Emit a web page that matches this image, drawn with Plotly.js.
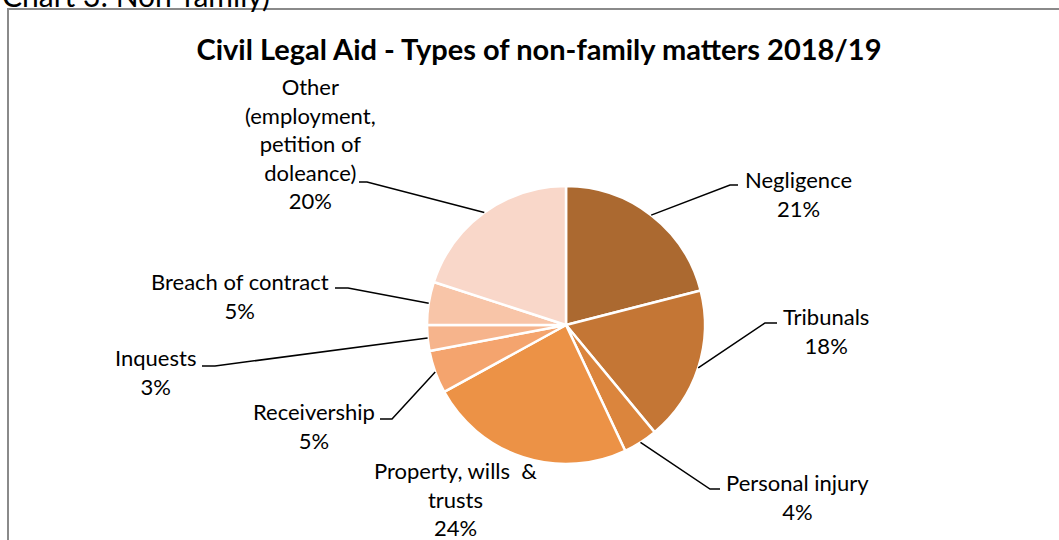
<!DOCTYPE html>
<html>
<head>
<meta charset="utf-8">
<script src="https://cdn.plot.ly/plotly-3.0.1.min.js"></script>
<style>html,body{margin:0;padding:0;background:#fff;}#chart{width:1059px;height:540px;}</style>
</head>
<body>
<div id="chart"></div>
<script>
// ---- data ----
const categories = ["Negligence", "Tribunals", "Personal injury", "Property, wills  & trusts", "Receivership", "Inquests", "Breach of contract", "Other (employment, petition of doleance)"];
const labelText = ["Negligence", "Tribunals", "Personal injury", "Property, wills  &<br>trusts", "Receivership", "Inquests", "Breach of contract", "Other<br>(employment,<br>petition of<br>doleance)"];
const shares = [21, 18, 4, 24, 5, 3, 5, 20];
const colors = ["#AB6930", "#C47635", "#DB853D", "#EC9246", "#F4A46E", "#F6B48C", "#F8C5A8", "#F9D7C9"];

// ---- layout geometry (pixels) ----
const W = 1059, H = 540;
const cx = 566, cy = 325, R = 139;
const labelPos = [[798,194],[826,331],[797,497],[455,499],[314,426],[155,372],[240,296],[310,144]];
// elbow point and text-end point of each leader line (null = none)
const elbows = [[[730,185],[738,185]], [[765,323],[777,323]], [[710,489],[720,489]], null,
                [[392,419],[380,419]], [[215,366],[202,366]], [[348,288],[335,288]], [[367,182],[359,182]]];

const px = x => x / W, py = y => 1 - y / H;

const total = shares.reduce((a,b)=>a+b,0);
let cum = 0;
const shapes = [];
const annotations = [];
shares.forEach((v,i) => {
  const mid = (cum + v/2) / total * 2 * Math.PI;
  cum += v;
  const ax = cx + R * Math.sin(mid), ay = cy - R * Math.cos(mid);
  if (elbows[i]) {
    const [e, t] = elbows[i];
    shapes.push({type:'path', xref:'paper', yref:'paper',
      path:`M ${px(ax)} ${py(ay)} L ${px(e[0])} ${py(e[1])} L ${px(t[0])} ${py(t[1])}`,
      line:{color:'#000', width:1.5}});
  }
  annotations.push({xref:'paper', yref:'paper', x:px(labelPos[i][0]), y:py(labelPos[i][1]),
    xanchor:'center', yanchor:'middle', showarrow:false, align:'center',
    text: labelText[i] + '<br>' + Math.round(v/total*100) + '%',
    font:{family:'Lato, "Open Sans", sans-serif', size:22, color:'#000'}});
});

// outer frame
shapes.push({type:'rect', xref:'paper', yref:'paper', x0:px(8), x1:px(1070), y0:py(560), y1:py(9),
  line:{color:'#8a8a8a', width:2}, fillcolor:'rgba(0,0,0,0)'});

annotations.push({xref:'paper', yref:'paper', x:0, y:py(15), xanchor:'left', yanchor:'bottom', showarrow:false,
  text:'Chart 3: Non-family)', font:{family:'Lato, sans-serif', size:30, color:'#000'}});

const trace = {
  type:'pie', labels:categories, values:shares, sort:false, direction:'clockwise', rotation:0,
  textinfo:'none', hoverinfo:'label+percent',
  marker:{colors:colors, line:{color:'#ffffff', width:2.5}},
  domain:{x:[px(cx-R), px(cx+R)], y:[py(cy+R), py(cy-R)]},
  showlegend:false
};

const layout = {
  width:W, height:H, margin:{l:0,r:0,t:0,b:0},
  paper_bgcolor:'#fff', showlegend:false,
  title:{text:'<b>Civil Legal Aid - Types of non-family matters 2018/19</b>', x:539/W, xanchor:'center', y:py(50), yanchor:'middle',
    font:{family:'Lato, sans-serif', size:29, color:'#000'}},
  shapes:shapes, annotations:annotations
};
Plotly.newPlot('chart', [trace], layout, {displayModeBar:false, staticPlot:true});
</script>
</body>
</html>
